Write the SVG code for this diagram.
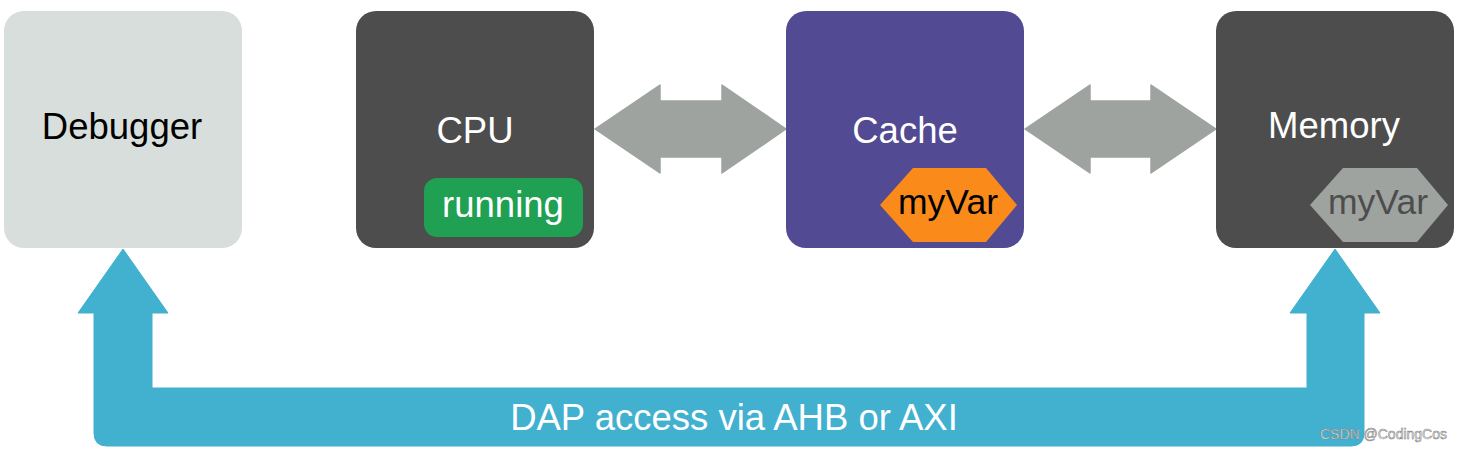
<svg xmlns="http://www.w3.org/2000/svg" width="1461" height="452" viewBox="0 0 1461 452">
<style>
text{font-family:"Liberation Sans",Arial,sans-serif;text-anchor:middle}
.lbl{font-size:36.5px}
.w{fill:#ffffff}
.box{stroke:none}
.dbl{fill:#9ea3a0;stroke:#9ea3a0;stroke-width:1.5;stroke-linejoin:round}
</style>
<rect width="1461" height="452" fill="#ffffff"/>
<g id="connectors">
  <path id="cpu-cache" class="dbl" d="M595,129 L660,85 L660,101 L722,101 L722,85 L786,129 L722,173 L722,157 L660,157 L660,173 Z"/>
  <path id="cache-memory" class="dbl" d="M1025,129 L1090,85 L1090,101 L1151,101 L1151,85 L1216,129 L1151,173 L1151,157 L1090,157 L1090,173 Z"/>
  <g id="dap">
    <path d="M123,249 L168,313 L152,313 L152,388 L1307,388 L1307,313 L1290,313 L1335,249 L1380,313 L1364,313 L1364,433 Q1364,446 1351,446 L107,446 Q94,446 94,433 L94,313 L78,313 Z" fill="#42b0cf" stroke="#42b0cf" stroke-width="1" stroke-linejoin="round"/>
    <text class="lbl w" x="734" y="430">DAP access via AHB or AXI</text>
  </g>
</g>
<g id="debugger">
  <rect class="box" x="4" y="11" width="238" height="237" rx="20" fill="#d7dedb"/>
  <text class="lbl" x="122" y="139" fill="#000000">Debugger</text>
</g>
<g id="cpu">
  <rect class="box" x="356" y="11" width="238" height="237" rx="20" fill="#4d4d4d"/>
  <text class="lbl w" x="475" y="143">CPU</text>
  <g id="running">
    <rect x="424" y="178" width="159" height="59" rx="13" fill="#20a052"/>
    <text class="lbl w" x="503" y="217">running</text>
  </g>
</g>
<g id="cache">
  <rect class="box" x="786" y="11" width="238" height="237" rx="20" fill="#524a92"/>
  <text class="lbl w" x="905" y="143">Cache</text>
  <g id="cache-myvar">
    <polygon points="880,205 913,168 986,168 1017,205 986,242 913,242" fill="#fa8b1b"/>
    <text class="lbl" x="948" y="214" fill="#000000" style="font-size:35.5px">myVar</text>
  </g>
</g>
<g id="memory">
  <rect class="box" x="1216" y="11" width="238" height="237" rx="20" fill="#4d4d4d"/>
  <text class="lbl w" x="1334" y="138">Memory</text>
  <g id="memory-myvar">
    <polygon points="1310,205 1343,168 1417,168 1448,205 1417,242 1343,242" fill="#9ea3a0"/>
    <text class="lbl" x="1378" y="214" fill="#4d4d4d" style="font-size:35.5px">myVar</text>
  </g>
</g>
<text x="1383.5" y="439" style="font-size:14px" fill="#eeeeee" stroke="#777777" stroke-width="0.5">CSDN @CodingCos</text>
</svg>
